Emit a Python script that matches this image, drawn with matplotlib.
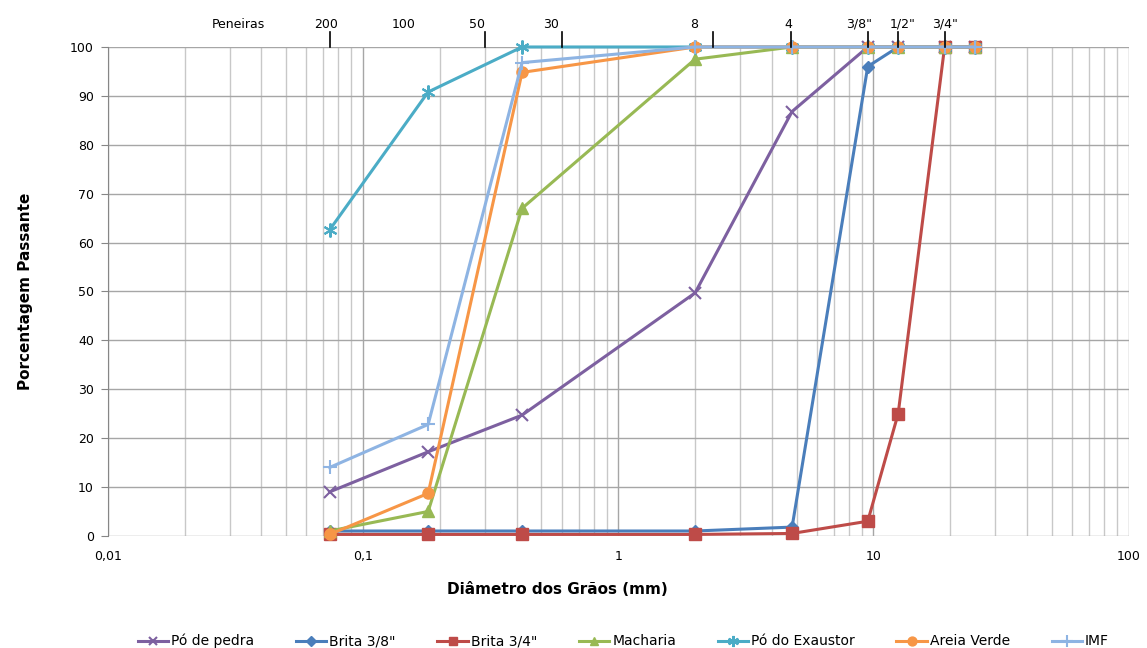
import matplotlib.pyplot as plt
import matplotlib.ticker as ticker

# sieve openings (mm) used for every series
diametros = [0.074, 0.18, 0.42, 2.0, 4.8, 9.5, 12.5, 19.0, 25.0]

po_de_pedra = [9, 17.2, 24.7, 49.7, 86.8, 100, 100, 100, 100]
brita_38 = [1, 1, 1, 1, 1.8, 96, 100, 100, 100]
brita_34 = [0.3, 0.3, 0.3, 0.3, 0.5, 3, 25, 100, 100]
macharia = [1, 5, 67, 97.5, 100, 100, 100, 100, 100]
po_exaustor = [62.6, 90.8, 100, 100, 100, 100, 100, 100, 100]
areia_verde = [0.3, 8.7, 94.8, 100, 100, 100, 100, 100, 100]
imf = [14, 22.8, 96.8, 100, 100, 100, 100, 100, 100]

# top "Peneiras" annotation
peneiras_labels = ["Peneiras", "200", "100", "50", "30", "8", "4", '3/8"', '1/2"', '3/4"']
peneiras_label_x = [0.0326, 0.0714, 0.144, 0.28, 0.547, 1.98, 4.63, 8.77, 13.0, 19.05]
peneiras_tick_x = [0.074, 0.3, 0.6, 2.36, 4.75, 9.5, 12.5, 19.0]

series = [
    ("Pó de pedra", po_de_pedra, "#7D60A0", "x", 8),
    ('Brita 3/8"', brita_38, "#4A7EBB", "D", 6),
    ('Brita 3/4"', brita_34, "#BE4B48", "s", 8),
    ("Macharia", macharia, "#98B954", "^", 8),
    ("Pó do Exaustor", po_exaustor, "#4BACC6", (6, 2, 0), 10),
    ("Areia Verde", areia_verde, "#F79646", "o", 8),
    ("IMF", imf, "#8EB4E3", "+", 10),
]

fig = plt.figure(figsize=(11.47, 6.48), dpi=100)
ax = fig.add_axes([0.094, 0.173, 0.890, 0.7545])

for name, vals, color, marker, ms in series:
    mew = 1.5 if marker in ("x", "+", (6, 2, 0)) else 1
    ax.plot(diametros, vals, color=color, marker=marker, markersize=ms,
            markeredgewidth=mew, linewidth=2.2, label=name, clip_on=False)

ax.set_xscale("log")
ax.set_xlim(0.01, 100)
ax.set_ylim(0, 100)
ax.yaxis.set_major_locator(ticker.MultipleLocator(10))
ax.xaxis.set_major_locator(ticker.LogLocator(base=10, numticks=10))
ax.xaxis.set_minor_locator(ticker.LogLocator(base=10, subs=range(2, 10), numticks=20))
ax.xaxis.set_minor_formatter(ticker.NullFormatter())
ax.xaxis.set_major_formatter(ticker.FuncFormatter(lambda v, p: f"{v:g}".replace(".", ",")))

ax.grid(True, which="major", axis="both", color="#A6A6A6", linewidth=1)
ax.grid(True, which="minor", axis="x", color="#C8C8C8", linewidth=1)
ax.set_axisbelow(True)

for s in ["top", "right", "bottom"]:
    ax.spines[s].set_visible(False)
ax.spines["left"].set_color("#868686")
ax.tick_params(axis="y", length=5, color="#868686", labelsize=9, pad=5)
ax.tick_params(axis="x", which="both", length=0, labelsize=9, pad=10)

ax.set_xlabel("Diâmetro dos Grãos (mm)", fontsize=11, fontweight="bold")
ax.xaxis.set_label_coords(0.44, -0.095)
ax.set_ylabel("Porcentagem Passante", fontsize=11, fontweight="bold")
ax.yaxis.set_label_coords(-0.073, 0.5)

# sieve labels on top
for lab, xv in zip(peneiras_labels, peneiras_label_x):
    ax.text(xv, 103.3, lab, ha="center", va="bottom", fontsize=9)
for xv in peneiras_tick_x:
    ax.plot([xv, xv], [100, 103], color="black", linewidth=1.2, clip_on=False)

ax.legend(loc="upper center", bbox_to_anchor=(0.505, -0.175), ncol=7, frameon=False,
          fontsize=10, handlelength=2.2, handletextpad=0.2, columnspacing=3.0,
          markerscale=0.8)

plt.savefig("out.png", dpi=100)
